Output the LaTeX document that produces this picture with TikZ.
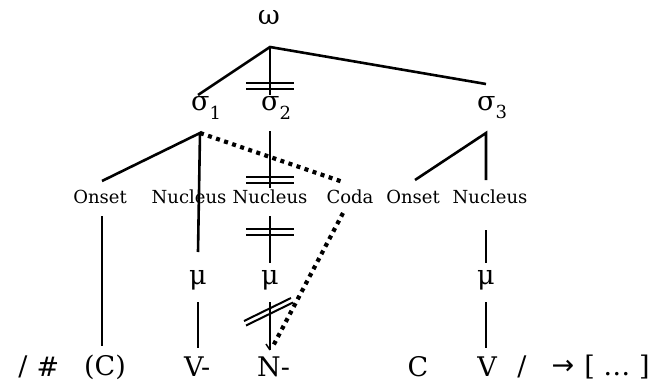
\documentclass[tikz,border=0pt]{standalone}
\usepackage{fontspec}
\setmainfont{DejaVu Serif}
\newfontfamily\symfont{DejaVu Sans}
\begin{document}
\begin{tikzpicture}[x=1pt,y=-1pt,
  big/.style={inner sep=0pt,font=\fontsize{27}{30}\selectfont},
  small/.style={inner sep=0pt,font=\fontsize{18}{20}\selectfont},
  ln/.style={line width=2.6pt},
  bar/.style={line width=2pt},
  dots/.style={line width=4.2pt,dash pattern=on 4pt off 4.5pt}]
\useasboundingbox (0,0) rectangle (663,388);
% top
\node[big] (w) at (269,18) {ω};
\node[big,anchor=west] (s1) at (191,108) {σ\raisebox{-0.3em}{\fontsize{18}{18}\selectfont 1}};
\node[big,anchor=west] (s2) at (261,108) {σ\raisebox{-0.3em}{\fontsize{18}{18}\selectfont 2}};
\node[big,anchor=west] (s3) at (477,108) {σ\raisebox{-0.3em}{\fontsize{18}{18}\selectfont 3}};
% mid labels
\node[small] (on1) at (100,197) {Onset};
\node[small] (nu1) at (189,197) {Nucleus};
\node[small] (nu2) at (270,197) {Nucleus};
\node[small] (co) at (350,197) {Coda};
\node[small] (on3) at (413,197) {Onset};
\node[small] (nu3) at (490,197) {Nucleus};
% mu
\node[big] (m1) at (198,280) {μ};
\node[big] (m2) at (270,280) {μ};
\node[big] (m3) at (486,280) {μ};
% bottom row
\node[big] (b1) at (23,367) {/};
\node[big] (b2) at (48,367) {\#};
\node[big] (b3) at (105,367) {(C)};
\node[big,anchor=west] (b4) at (184,367) {V-};
\node[big,anchor=west] (b5) at (257,367) {N-};
\node[big] (b6) at (418,367) {C};
\node[big] (b7) at (487,367) {V};
\node[big] (b8) at (522,367) {/};
\node[big] (b9) at (563,367) {\symfont →};
\node[big] (b10) at (617,367) {[ … ]};
% coordinates
\coordinate (wa) at (270,47);
\coordinate (s1t) at (198,95);
\coordinate (s2t) at (270,95);
\coordinate (s3t) at (486,84);
\coordinate (s1a) at (200,133);
\coordinate (on1t) at (102,181);
\coordinate (nu1b) at (198,252);
\coordinate (on1b) at (102,216);
\coordinate (cb) at (102,346);
\coordinate (s2a) at (270,131);
\coordinate (nu2t) at (270,188);
\coordinate (nu2b) at (270,216);
\coordinate (m2t) at (270,263);
\coordinate (cot) at (343,182);
\coordinate (cob) at (343,213);
\coordinate (s3a) at (486,133);
\coordinate (on3t) at (415,180);
\coordinate (nu3t) at (486,180);
\coordinate (nu3b) at (486,230);
\coordinate (m3t) at (486,263);
\coordinate (m1b) at (198,302);
\coordinate (vb) at (198,348);
\coordinate (m2b) at (270,302);
\coordinate (nb) at (270,350);
\coordinate (nbd) at (272,348);
\coordinate (m3b) at (486,302);
\coordinate (v3b) at (486,348);
% lines
\draw[ln] (s1t) -- (wa) -- (s3t);
\draw[ln] (wa) -- (s2t);
\draw[bar] (246,83) -- (294,83) (246,88.5) -- (294,88.5);
\draw[ln] (on1t) -- (s1a) -- (nu1b);
\draw[ln] (on1b) -- (cb);
\draw[ln] (s2a) -- (nu2t);
\draw[bar] (246,177) -- (294,177) (246,183) -- (294,183);
\draw[ln] (nu2b) -- (m2t);
\draw[bar] (246,229) -- (294,229) (246,234.5) -- (294,234.5);
\draw[ln] (on3t) -- (s3a) -- (nu3t);
\draw[ln] (nu3b) -- (m3t);
\draw[ln] (m1b) -- (vb);
\draw[ln] (m2b) -- (nb);
\draw[line width=1.5pt] (266,344) -- (nb);
\draw[ln] (m3b) -- (v3b);
\draw[bar] (244,321) -- (291,298) (246,325.5) -- (293,302.5);
\draw[dots] (s1a) -- (cot);
\draw[dots] (cob) -- (nbd);
\end{tikzpicture}
\end{document}
